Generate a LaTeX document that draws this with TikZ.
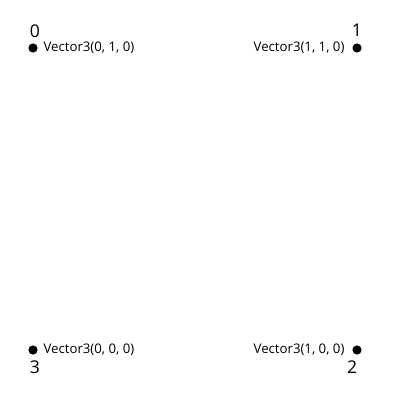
\documentclass[tikz,border=0pt]{standalone}
\usepackage{fontspec}
\setmainfont{Open Sans}
\usetikzlibrary{positioning}

\begin{document}
\begin{tikzpicture}[x=0.025cm, y=-0.025cm, node distance=0.1cm,
  vdot/.style={circle, fill=black, inner sep=0pt, minimum size=0.23cm},
  vtext/.style={font=\fontsize{9.4}{11}\selectfont, inner sep=1pt},
  vnum/.style={font=\fontsize{12.5}{14}\selectfont, inner sep=0pt}]
\useasboundingbox (0,0) rectangle (400,400);
\node[vdot] (P0) at (33,48) {};
\node[vdot] (P1) at (357,48) {};
\node[vdot] (P2) at (357,350) {};
\node[vdot] (P3) at (33,350) {};
\node[vtext, right=0.1cm of P0] (T0) {Vector3(0, 1, 0)};
\node[vtext, left=0.15cm of P1] (T1) {Vector3(1, 1, 0)};
\node[vtext, left=0.15cm of P2] (T2) {Vector3(1, 0, 0)};
\node[vtext, right=0.1cm of P3] (T3) {Vector3(0, 0, 0)};
\node[vnum, above right=0.17cm and -0.17cm of P0] (N0) {0};
\node[vnum, above=0.17cm of P1] (N1) {1};
\node[vnum, below left=0.17cm and -0.1cm of P2] (N2) {2};
\node[vnum, below right=0.17cm and -0.17cm of P3] (N3) {3};
\end{tikzpicture}
\end{document}
